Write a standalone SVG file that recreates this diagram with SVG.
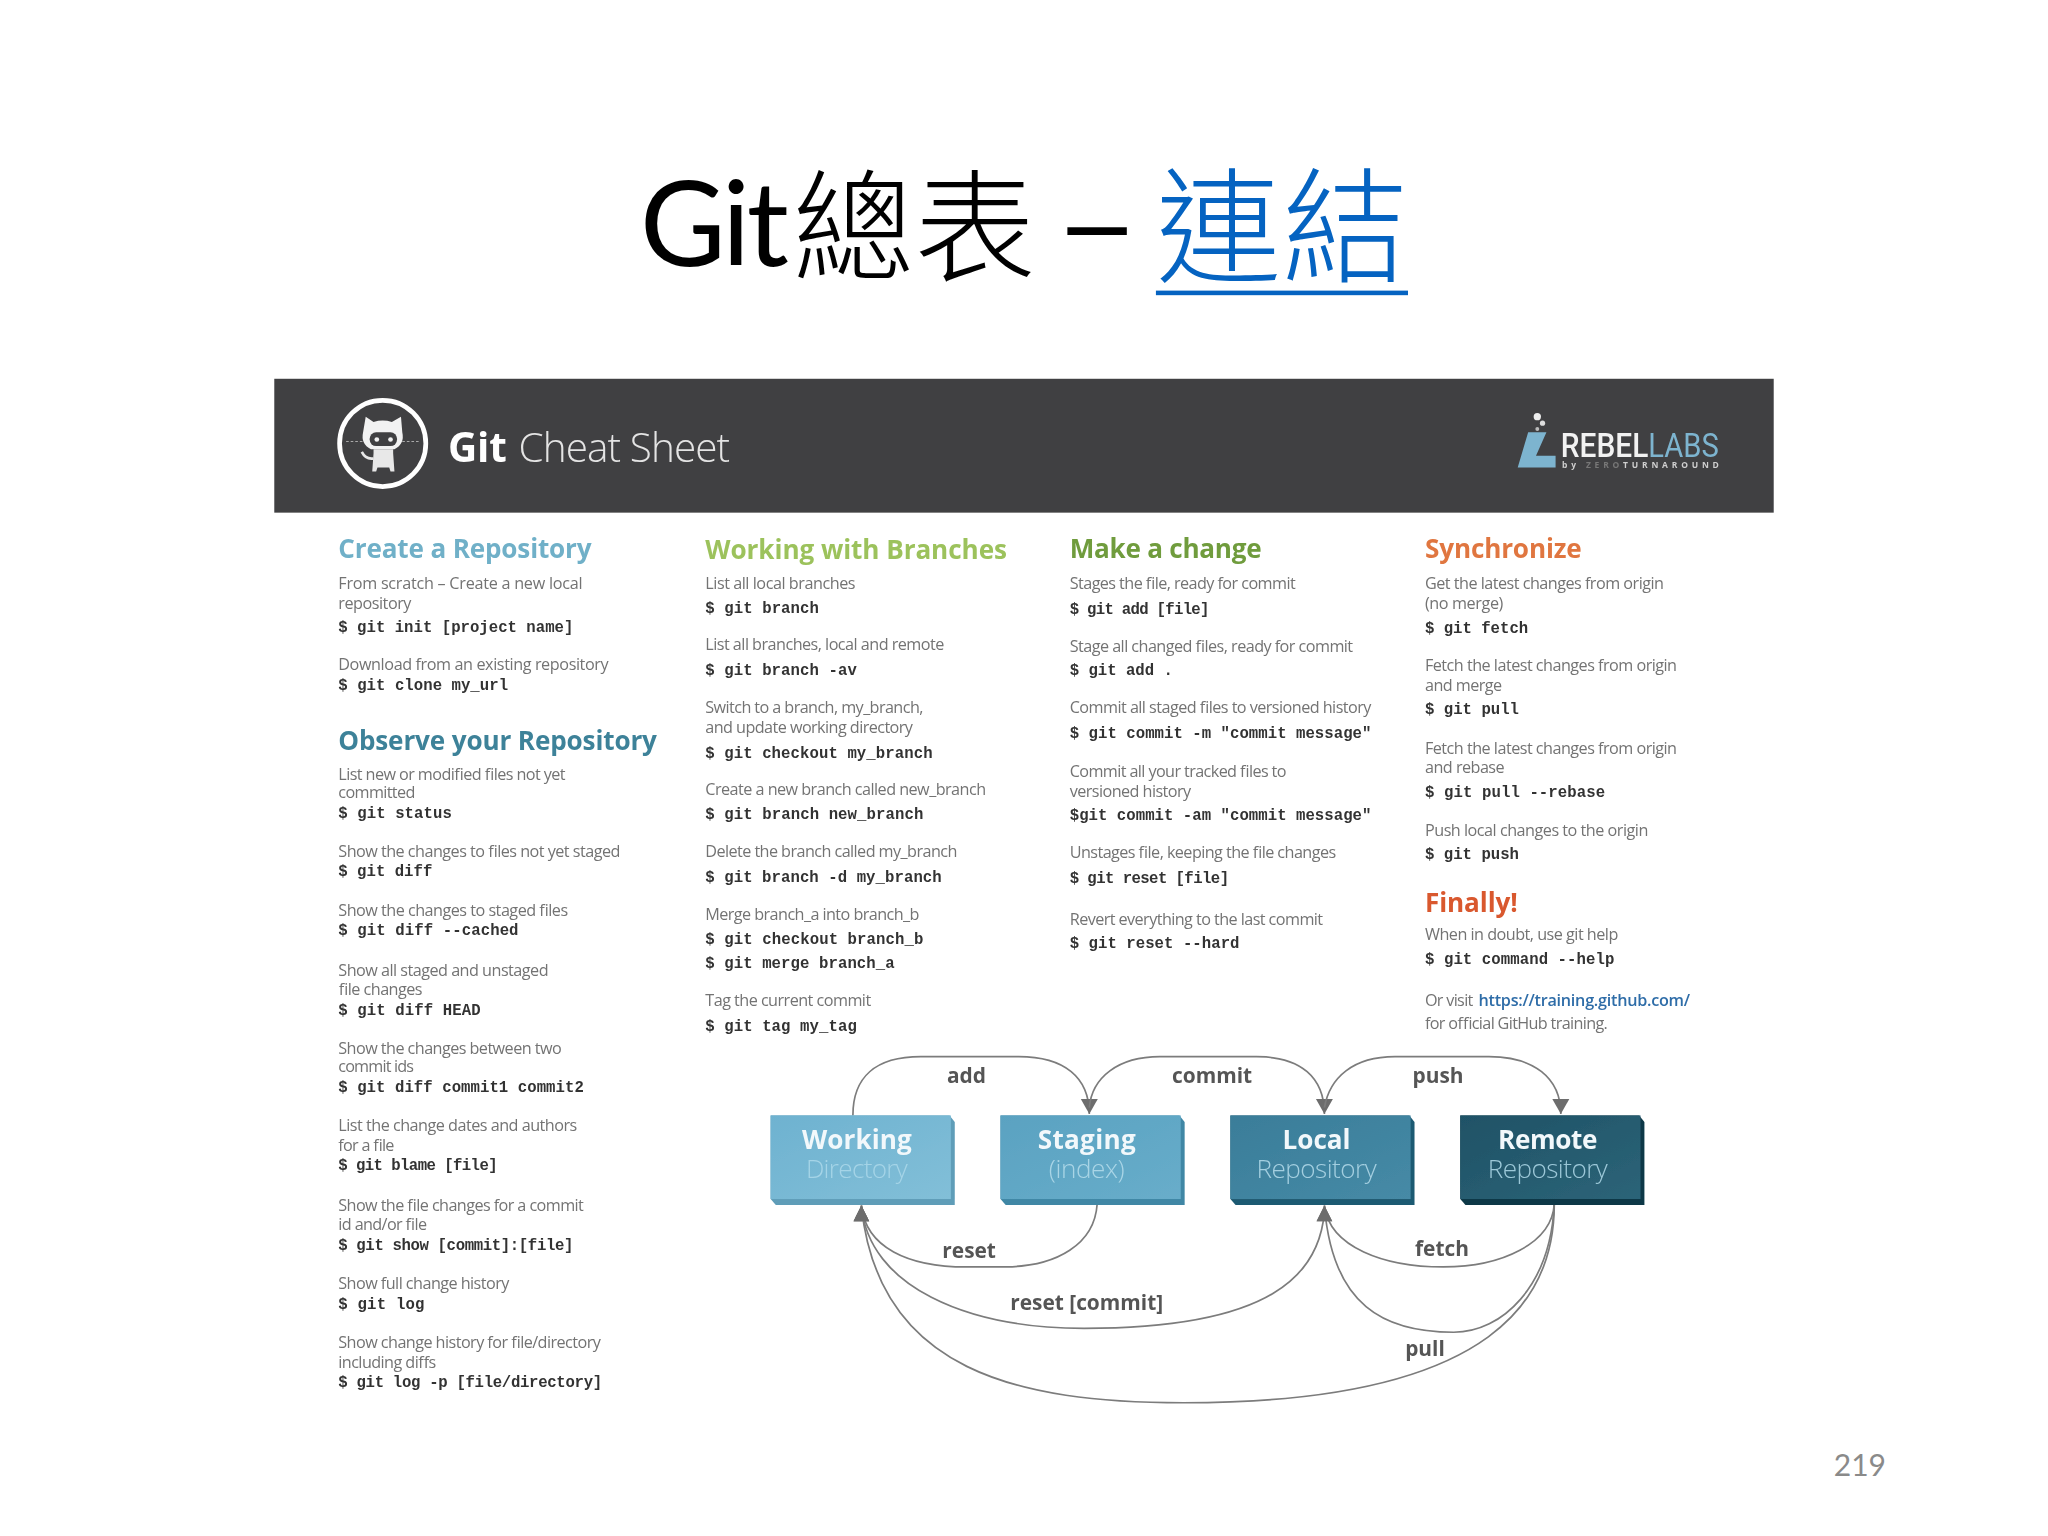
<svg xmlns="http://www.w3.org/2000/svg" width="2048" height="1536" viewBox="0 0 2048 1536">
<defs>
<filter id="soft" x="-2%" y="-2%" width="104%" height="104%"><feGaussianBlur stdDeviation="0.6"/></filter>
<linearGradient id="gw" x1="0" y1="0" x2="1" y2="1"><stop offset="0" stop-color="#6eb2d0"/><stop offset="1" stop-color="#82bfd8"/></linearGradient>
<linearGradient id="gs" x1="0" y1="0" x2="1" y2="1"><stop offset="0" stop-color="#5aa2c1"/><stop offset="1" stop-color="#68adca"/></linearGradient>
<linearGradient id="gl" x1="0" y1="0" x2="1" y2="1"><stop offset="0" stop-color="#3a7d99"/><stop offset="1" stop-color="#468aa6"/></linearGradient>
<linearGradient id="gr" x1="0" y1="0" x2="1" y2="1"><stop offset="0" stop-color="#1f5266"/><stop offset="1" stop-color="#2c6478"/></linearGradient>
<marker id="dn" markerUnits="userSpaceOnUse" markerWidth="14" markerHeight="14" refX="7" refY="13" orient="0"><path d="M0.500 1.500L13.500 1.500L7 13Z" fill="#6d6d6d"/></marker>
<marker id="up" markerUnits="userSpaceOnUse" markerWidth="14" markerHeight="14" refX="7" refY="1" orient="0"><path d="M1 13L13 13L7 1Z" fill="#6d6d6d"/></marker>
</defs>
<style>
.b{font-family:"Open Sans","Liberation Sans",sans-serif;font-size:12.4px;fill:#737373;font-weight:400}
.c{font-family:"Liberation Mono",monospace;font-size:12px;font-weight:700;fill:#333}
.h{font-family:"Open Sans","Liberation Sans",sans-serif;font-size:20px;font-weight:700}
.lbl{font-family:"Open Sans","Liberation Sans",sans-serif;font-size:16px;font-weight:700;fill:#555;text-anchor:middle}
.t1{font-family:"Open Sans","Liberation Sans",sans-serif;font-size:20px;font-weight:700;text-anchor:middle;fill:#f2f8fb}
.t2{font-family:"Open Sans","Liberation Sans",sans-serif;font-size:20px;font-weight:300;text-anchor:middle}
.arc{fill:none;stroke:#7c7c7c;stroke-width:1.300}
.d{marker-end:url(#dn)}
.u{marker-end:url(#up)}
.cjk{font-family:"Noto Sans CJK TC",sans-serif;font-weight:300}
</style>
<rect width="2048" height="1536" fill="#fff"/>
<g transform="scale(1.30612)">
<g id="title">
<text x="490" y="204" font-size="90" font-weight="400" font-family="Lato,sans-serif" fill="#000" textLength="114">Git</text>
<text class="cjk" y="208" font-size="93" fill="#000"><tspan x="607">總</tspan><tspan x="700">表</tspan></text>
<text x="807" y="204" font-size="90" font-weight="400" font-family="Lato,sans-serif" fill="#000" textLength="66" lengthAdjust="spacingAndGlyphs">–</text>
<text class="cjk" y="209" font-size="96" fill="#0563c1"><tspan x="885">連</tspan><tspan x="982">結</tspan></text>
<rect x="885" y="222.500" width="193" height="3.500" fill="#0563c1"/>
</g>
<g id="cheatsheet" filter="url(#soft)">
<g id="header">
<rect x="210" y="290" width="1148" height="102.500" fill="#414042"/>
<circle cx="293" cy="339.500" r="33" fill="none" stroke="#fff" stroke-width="3.600"/>
<path d="M280 319L286 323Q293 321 300 323L307 319L308 331Q310 340 302 344L284 344Q276 340 278 331Z" fill="#f2f2f2"/>
<rect x="283" y="331" width="21" height="10.500" rx="5" fill="#414042"/>
<circle cx="288.500" cy="336.500" r="1.800" fill="#f2f2f2"/><circle cx="299" cy="336.500" r="1.800" fill="#f2f2f2"/>
<path d="M286 344h15v3l1 14h-3l-1-3h-9l-1 3h-3l1-14Z" fill="#e8e8e8"/>
<path d="M277 346Q280 352 286 351" fill="none" stroke="#e8e8e8" stroke-width="2"/>
<path d="M265 338H278M308 338H321" stroke="#a9a9a9" stroke-width="0.800" stroke-dasharray="2 1.500" fill="none"/>
<text x="343" y="354" font-family="'Open Sans',sans-serif" font-size="31" font-weight="700" fill="#fff" textLength="45">Git</text>
<text x="397" y="354" font-family="'Open Sans',sans-serif" font-size="31" font-weight="300" fill="#e4e4e4" textLength="162">Cheat Sheet</text>
<path d="M1170 331H1184L1176 349H1191V358H1162Z" fill="#7db4cf"/>
<circle cx="1177" cy="319" r="2.800" fill="#eee"/><circle cx="1181" cy="324" r="2" fill="#ddd"/><circle cx="1177" cy="328.500" r="1.500" fill="#bbb"/>
<text x="1195" y="350" font-family="Roboto,sans-serif" font-size="25" font-weight="500" fill="#f2f2f2" textLength="67" lengthAdjust="spacingAndGlyphs">REBEL</text>
<text x="1262" y="350" font-family="Roboto,sans-serif" font-size="25" fill="#7db4cf" textLength="54" lengthAdjust="spacingAndGlyphs">LABS</text>
<text x="1196" y="358.500" font-family="'Open Sans',sans-serif" font-size="6.500" font-weight="700" fill="#cfcfcf" textLength="120"><tspan>by </tspan><tspan fill="#777">ZERO</tspan><tspan>TURNAROUND</tspan></text>
</g>
<g id="col1">
<text class="h" x="259" y="427" fill="#6fb0c8" textLength="194">Create a Repository</text>
<text class="b" x="259" y="451" textLength="187">From scratch – Create a new local</text>
<text class="b" x="259" y="466" textLength="56">repository</text>
<text class="c" x="259" y="484" textLength="180">$ git init [project name]</text>
<text class="b" x="259" y="513" textLength="207">Download from an existing repository</text>
<text class="c" x="259" y="528" textLength="130">$ git clone my_url</text>
<text class="h" x="259" y="574" fill="#3e8299" textLength="244">Observe your Repository</text>
<text class="b" x="259" y="597" textLength="174">List new or modified files not yet</text>
<text class="b" x="259" y="611" textLength="59">committed</text>
<text class="c" x="259" y="626" textLength="87">$ git status</text>
<text class="b" x="259" y="656" textLength="216">Show the changes to files not yet staged</text>
<text class="c" x="259" y="671" textLength="72">$ git diff</text>
<text class="b" x="259" y="701" textLength="176">Show the changes to staged files</text>
<text class="c" x="259" y="716" textLength="138">$ git diff --cached</text>
<text class="b" x="259" y="747" textLength="161">Show all staged and unstaged</text>
<text class="b" x="259" y="762" textLength="64">file changes</text>
<text class="c" x="259" y="777" textLength="109">$ git diff HEAD</text>
<text class="b" x="259" y="807" textLength="171">Show the changes between two</text>
<text class="b" x="259" y="821" textLength="58">commit ids</text>
<text class="c" x="259" y="836" textLength="188">$ git diff commit1 commit2</text>
<text class="b" x="259" y="866" textLength="183">List the change dates and authors</text>
<text class="b" x="259" y="881" textLength="43">for a file</text>
<text class="c" x="259" y="896" textLength="122">$ git blame [file]</text>
<text class="b" x="259" y="927" textLength="188">Show the file changes for a commit</text>
<text class="b" x="259" y="942" textLength="68">id and/or file</text>
<text class="c" x="259" y="957" textLength="180">$ git show [commit]:[file]</text>
<text class="b" x="259" y="987" textLength="131">Show full change history</text>
<text class="c" x="259" y="1002" textLength="66">$ git log</text>
<text class="b" x="259" y="1032" textLength="201">Show change history for file/directory</text>
<text class="b" x="259" y="1047" textLength="75">including diffs</text>
<text class="c" x="259" y="1062" textLength="202">$ git log -p [file/directory]</text>
</g>
<g id="col2">
<text class="h" x="540" y="428" fill="#9cc25b" textLength="231">Working with Branches</text>
<text class="b" x="540" y="451" textLength="115">List all local branches</text>
<text class="c" x="540" y="469" textLength="87">$ git branch</text>
<text class="b" x="540" y="498" textLength="183">List all branches, local and remote</text>
<text class="c" x="540" y="517" textLength="116">$ git branch -av</text>
<text class="b" x="540" y="546" textLength="167">Switch to a branch, my_branch,</text>
<text class="b" x="540" y="561" textLength="159">and update working directory</text>
<text class="c" x="540" y="580" textLength="174">$ git checkout my_branch</text>
<text class="b" x="540" y="609" textLength="215">Create a new branch called new_branch</text>
<text class="c" x="540" y="627" textLength="167">$ git branch new_branch</text>
<text class="b" x="540" y="656" textLength="193">Delete the branch called my_branch</text>
<text class="c" x="540" y="675" textLength="181">$ git branch -d my_branch</text>
<text class="b" x="540" y="704" textLength="164">Merge branch_a into branch_b</text>
<text class="c" x="540" y="723" textLength="167">$ git checkout branch_b</text>
<text class="c" x="540" y="741" textLength="145">$ git merge branch_a</text>
<text class="b" x="540" y="770" textLength="127">Tag the current commit</text>
<text class="c" x="540" y="789" textLength="116">$ git tag my_tag</text>
</g>
<g id="col3">
<text class="h" x="819" y="427" fill="#6f9c3d" textLength="147">Make a change</text>
<text class="b" x="819" y="451" textLength="173">Stages the file, ready for commit</text>
<text class="c" x="819" y="470" textLength="107">$ git add [file]</text>
<text class="b" x="819" y="499" textLength="217">Stage all changed files, ready for commit</text>
<text class="c" x="819" y="517" textLength="79">$ git add .</text>
<text class="b" x="819" y="546" textLength="231">Commit all staged files to versioned history</text>
<text class="c" x="819" y="565" textLength="231">$ git commit -m "commit message"</text>
<text class="b" x="819" y="595" textLength="166">Commit all your tracked files to</text>
<text class="b" x="819" y="610" textLength="93">versioned history</text>
<text class="c" x="819" y="628" textLength="231">$git commit -am "commit message"</text>
<text class="b" x="819" y="657" textLength="204">Unstages file, keeping the file changes</text>
<text class="c" x="819" y="676" textLength="122">$ git reset [file]</text>
<text class="b" x="819" y="708" textLength="194">Revert everything to the last commit</text>
<text class="c" x="819" y="726" textLength="130">$ git reset --hard</text>
</g>
<g id="col4">
<text class="h" x="1091" y="427" fill="#e0763f" textLength="120">Synchronize</text>
<text class="b" x="1091" y="451" textLength="183">Get the latest changes from origin</text>
<text class="b" x="1091" y="466" textLength="60">(no merge)</text>
<text class="c" x="1091" y="485" textLength="79">$ git fetch</text>
<text class="b" x="1091" y="514" textLength="193">Fetch the latest changes from origin</text>
<text class="b" x="1091" y="529" textLength="59">and merge</text>
<text class="c" x="1091" y="547" textLength="72">$ git pull</text>
<text class="b" x="1091" y="577" textLength="193">Fetch the latest changes from origin</text>
<text class="b" x="1091" y="592" textLength="61">and rebase</text>
<text class="c" x="1091" y="610" textLength="138">$ git pull --rebase</text>
<text class="b" x="1091" y="640" textLength="171">Push local changes to the origin</text>
<text class="c" x="1091" y="658" textLength="72">$ git push</text>
<text class="h" x="1091" y="698" fill="#d9582f" textLength="71">Finally!</text>
<text class="b" x="1091" y="720" textLength="148">When in doubt, use git help</text>
<text class="c" x="1091" y="738" textLength="145">$ git command --help</text>
<text class="b" x="1091" y="770" textLength="37">Or visit</text>
<text class="b" x="1132" y="770" textLength="162" style="fill:#2f6da8;font-weight:600">https://training.github.com/</text>
<text class="b" x="1091" y="788" textLength="140">for official GitHub training.</text>
</g>
<g id="connectors">
<path class="arc d" d="M653 854C653 825 670 809 705 809H780C815 809 834 825 834 853"/>
<path class="arc d" d="M834 848C836 825 856 809 888 809H962C996 809 1014 825 1014 853"/>
<path class="arc d" d="M1014 848C1018 825 1036 809 1068 809H1140C1174 809 1195 825 1195 853"/>
<path class="arc u" d="M840 922C838 952 810 970 768 970H740C695 970 663 955 659.500 923"/>
<path class="arc u" d="M1014 928C1010 975 975 1017 830 1017C740 1017 665 985 659.500 923"/>
<path class="arc u" d="M1190 922C1190 990 1150 1074 906 1074C780 1074 672 1050 659.500 923"/>
<path class="arc u" d="M1190 922C1188 952 1150 970 1105 970C1060 970 1018 955 1014 923"/>
<path class="arc u" d="M1190 922C1187 985 1150 1020 1113 1020C1060 1020 1020 1000 1014 923"/>
</g>
<g id="labels">
<text class="lbl" x="740" y="829">add</text>
<text class="lbl" x="928" y="829">commit</text>
<text class="lbl" x="1101" y="829">push</text>
<text class="lbl" x="742" y="963">reset</text>
<text class="lbl" x="832" y="1003">reset [commit]</text>
<text class="lbl" x="1104" y="962">fetch</text>
<text class="lbl" x="1091" y="1038">pull</text>
</g>
<g id="node-working">
<path d="M590 854H727L731 859V922.500H594L590 918Z" fill="#5f9db8"/>
<rect x="590" y="854" width="138" height="64" fill="url(#gw)"/>
<text class="t1" x="656" y="880" textLength="84">Working</text>
<text class="t2" x="656" y="902" fill="#a5d4e7" textLength="78">Directory</text>
</g>
<g id="node-staging">
<path d="M766 854H903L907 859V922.500H770L766 918Z" fill="#3f87a5"/>
<rect x="766" y="854" width="138" height="64" fill="url(#gs)"/>
<text class="t1" x="832" y="880" textLength="75">Staging</text>
<text class="t2" x="832" y="902" fill="#a9d5e6" textLength="58">(index)</text>
</g>
<g id="node-local">
<path d="M942 854H1079L1083 859V922.500H946L942 918Z" fill="#1f5a72"/>
<rect x="942" y="854" width="138" height="64" fill="url(#gl)"/>
<text class="t1" x="1008" y="880" textLength="52">Local</text>
<text class="t2" x="1008" y="902" fill="#a4cfe0" textLength="92">Repository</text>
</g>
<g id="node-remote">
<path d="M1118 854H1255L1259 859V922.500H1122L1118 918Z" fill="#0f3846"/>
<rect x="1118" y="854" width="138" height="64" fill="url(#gr)"/>
<text class="t1" x="1185" y="880" textLength="76">Remote</text>
<text class="t2" x="1185" y="902" fill="#9cc8d8" textLength="92">Repository</text>
</g>
</g>
<text id="page" x="1444" y="1130" text-anchor="end" font-family="Lato,sans-serif" font-size="23" fill="#8a8a8a">219</text>
</g>
</svg>
